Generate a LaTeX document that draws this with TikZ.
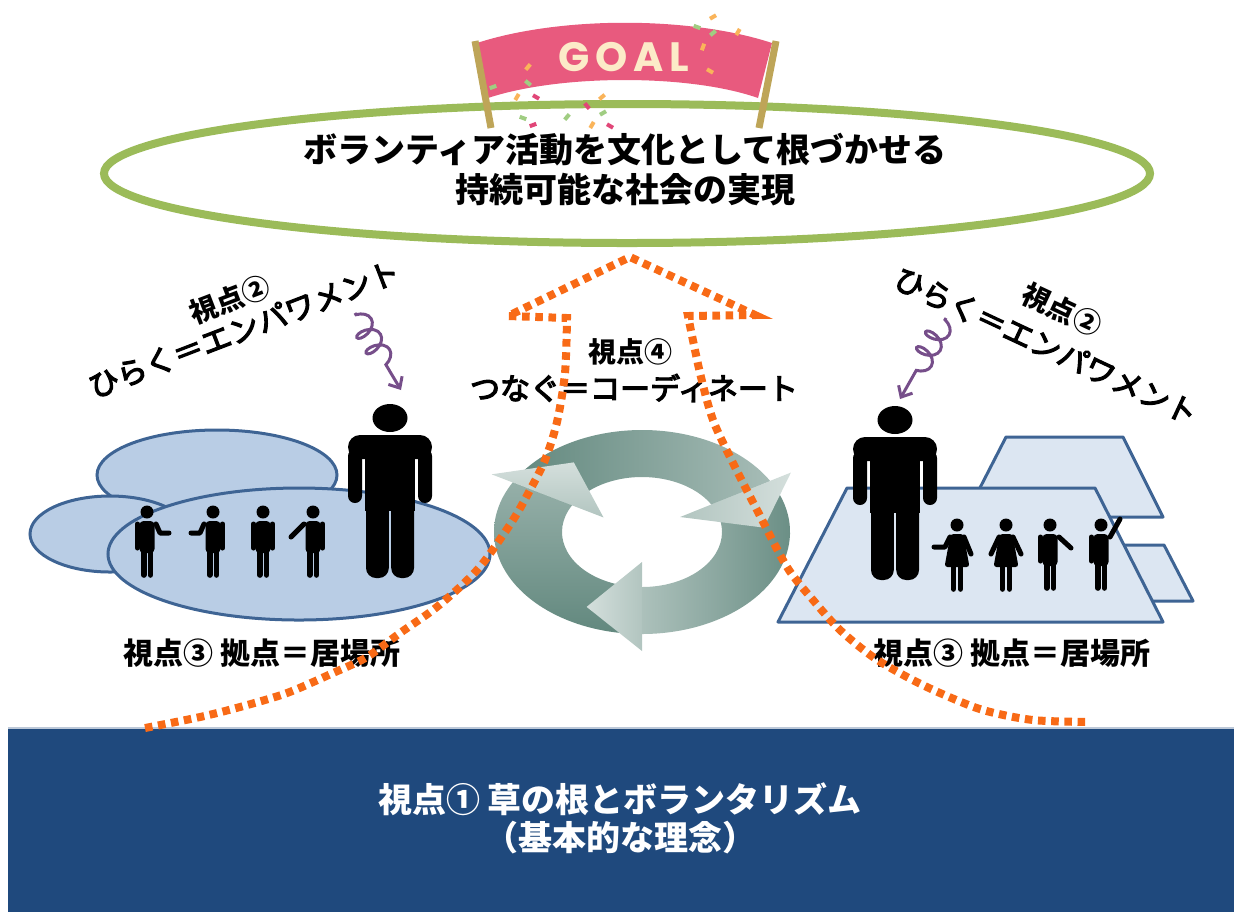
\documentclass[tikz,border=0pt]{standalone}
\usepackage{fontspec}
\newfontfamily\jp{Noto Sans CJK JP}
\newfontfamily\jpmed[FakeBold=4]{Noto Sans CJK JP}
\newfontfamily\goalfont[LetterSpace=14]{Poppins}
\usetikzlibrary{arrows.meta, decorations.pathmorphing}

\definecolor{baseblue}{RGB}{31,73,125}
\definecolor{ringgreen}{RGB}{155,187,89}
\definecolor{bannerpink}{RGB}{232,90,126}
\definecolor{poletan}{RGB}{190,165,88}
\definecolor{goalcream}{RGB}{252,235,200}
\definecolor{dotorange}{RGB}{248,106,22}
\definecolor{cloudfill}{RGB}{185,205,229}
\definecolor{planefill}{RGB}{220,230,242}
\definecolor{shapeedge}{RGB}{62,100,148}
\definecolor{cycdark}{RGB}{98,136,126}
\definecolor{cyclight}{RGB}{212,223,220}
\definecolor{coilpurple}{RGB}{118,78,138}
\definecolor{confgreen}{RGB}{160,205,130}
\definecolor{conforange}{RGB}{250,180,90}
\definecolor{confpink}{RGB}{225,70,120}

\tikzset{
  limb/.style={line width=2.5pt, line cap=round, line join=round},
  leg/.style={line width=2.8pt, line cap=round},
  blob/.style={fill=cloudfill, draw=shapeedge, line width=1.5pt},
  plane/.style={fill=planefill, draw=shapeedge, line width=1.5pt, line join=round},
  dots/.style={draw=dotorange, line width=4pt, dash pattern=on 3.8pt off 2.8pt},
  coilarrow/.style={draw=coilpurple, line width=1.5pt, decorate,
    decoration={coil, aspect=0.6, amplitude=5.5pt, segment length=9pt,
      pre length=1pt, post length=9pt},
    -{Straight Barb[length=4.5pt, width=8pt]}},
  title/.style={font=\jp\bfseries\fontsize{17pt}{20pt}\selectfont, align=center},
  basetext/.style={font=\jp\bfseries\fontsize{17pt}{19pt}\selectfont, align=center, text=white},
  viewpoint/.style={font=\jp\bfseries\fontsize{14pt}{16pt}\selectfont},
  catch/.style={font=\jpmed\fontsize{15pt}{17pt}\selectfont},
  place/.style={font=\jp\bfseries\fontsize{15pt}{17pt}\selectfont},
  pics/bigman/.style={code={
    \fill (0,-17) ellipse [x radius=17.5, y radius=14];
    \fill[rounded corners=6pt] (-42,24) -- (-42,0) -- (42,0) -- (42,24) -- cycle;
    \fill[rounded corners=3.5pt] (-42,14) rectangle (-28,68);
    \fill[rounded corners=3.5pt] (28,14) rectangle (42,68);
    \fill (-25,14) rectangle (25,76);
    \fill[rounded corners=5pt] (-24,66) rectangle (-1.2,143);
    \fill[rounded corners=5pt] (1.2,66) rectangle (24,143);
  }},
  pics/smallman/.style={code={
    \fill (0,0) circle [radius=6.5];
    \fill[rounded corners=2pt] (-7.5,9) rectangle (7.5,41);
    \draw[leg] (-3.3,39) -- (-3.3,63) (3.3,39) -- (3.3,63);
  }},
  pics/smallwoman/.style={code={
    \fill (0,0) circle [radius=6.5];
    \fill[rounded corners=1.5pt] (-6.5,9) -- (6.5,9) -- (12.5,42) -- (-12.5,42) -- cycle;
    \draw[leg] (-3.5,40) -- (-3.5,64) (3.5,40) -- (3.5,64);
  }},
}

\begin{document}
\begin{tikzpicture}[x=0.5pt, y=-0.5pt]
\useasboundingbox (0,0) rectangle (1234,912);

% base band: the foundation
\fill[baseblue] (8,727) rectangle (1234,912);
\draw[white!70!baseblue, line width=1pt] (8,728) -- (1234,728);
\node[basetext] (base) at (620,818) {視点① 草の根とボランタリズム\\{\addfontfeatures{RawFeature=+halt}（}基本的な理念{\addfontfeatures{RawFeature=+halt}）}};

% goal ring
\draw[ringgreen, line width=4pt] (627,173.5) ellipse [x radius=523, y radius=69.5];
\node[title] (goal) at (625,170) {ボランティア活動を文化として根づかせる\\持続可能な社会の実現};

% goal banner
\fill[bannerpink] (477,43) .. controls (560,16) and (690,16) .. (772,43)
  -- (758,98) .. controls (690,74) and (560,74) .. (488,98) -- cycle;
\draw[poletan, line width=3.5pt] (475,41) -- (491,128);
\draw[poletan, line width=3.5pt] (776,41) -- (759,128);
\node[font=\goalfont\bfseries\fontsize{20.5pt}{22pt}\selectfont, text=goalcream] (goalword) at (624,57) {GOAL};
\foreach \cx/\cy/\ca/\cc in {713/17/30/conforange, 697/27/-20/confgreen, 713/33/40/confgreen,
  738/32/60/conforange, 703/47/70/conforange, 710/71/-30/conforange, 528/67/50/conforange,
  528/83/-40/confgreen, 493/87/20/confgreen, 517/97/60/conforange, 536/97/-30/confpink,
  602/97/40/conforange, 587/106/-50/confpink, 603/113/30/confgreen, 523/118/-20/confgreen,
  567/117/50/confgreen, 592/125/60/conforange, 610/126/-30/confpink, 533/125/20/confpink}
  \fill[\cc, rotate around={\ca:(\cx,\cy)}] (\cx-3.5,\cy-2) rectangle (\cx+3.5,\cy+2);

% left place: cloud of ellipses
\draw[blob] (217,475) ellipse [x radius=120, y radius=45];
\draw[blob] (110,534) ellipse [x radius=80, y radius=38];
\draw[blob] (299,554) ellipse [x radius=191, y radius=66];

% right place: stacked planes
\draw[plane] (1006,437) -- (1123,437) -- (1163,517) -- (965,517) -- cycle;
\draw[plane] (1115,545) -- (1164,545) -- (1193,601) -- (1140,601) -- cycle;
\draw[plane] (847,488) -- (1095,488) -- (1163,622) -- (778,622) -- cycle;

% cycle of three curved arrows
\begin{scope}[shift={(642,532)}]
  \shade[top color=cycdark!55!cyclight, bottom color=cycdark]
    (90:148 and 102) arc [start angle=90, end angle=209, x radius=148, y radius=102]
    -- (209:80 and 55) arc [start angle=209, end angle=90, x radius=80, y radius=55] -- cycle;
  \shade[left color=cycdark, right color=cycdark!40!cyclight]
    (209:148 and 102) arc [start angle=209, end angle=330, x radius=148, y radius=102]
    -- (330:80 and 55) arc [start angle=330, end angle=209, x radius=80, y radius=55] -- cycle;
  \shade[right color=cycdark, left color=cycdark!35!cyclight]
    (330:148 and 102) arc [start angle=330, end angle=450, x radius=148, y radius=102]
    -- (450:80 and 55) arc [start angle=450, end angle=330, x radius=80, y radius=55] -- cycle;
  \shade[top color=cyclight, bottom color=cyclight!70!cycdark]
    (209:172 and 119) -- (236:122 and 84) -- (209:44 and 30) -- cycle;
  \shade[left color=cyclight!70!cycdark, right color=cyclight]
    (330:172 and 119) -- (357:122 and 84) -- (330:44 and 30) -- cycle;
  \shade[left color=cyclight, right color=cyclight!70!cycdark]
    (90:172 and 119) -- (117:122 and 84) -- (90:44 and 30) -- cycle;
\end{scope}

% people on the left
\pic at (390,435) {bigman};
\begin{scope}[shift={(147,512)}]
  \pic {smallman};
  \draw[limb] (-9.5,12) -- (-9.5,36);
  \draw[limb] (9,12) -- (13,21) -- (22,21);
\end{scope}
\begin{scope}[shift={(213,512)}]
  \pic {smallman};
  \draw[limb] (9.5,12) -- (9.5,36);
  \draw[limb] (-9,12) -- (-13,21) -- (-22,21);
\end{scope}
\begin{scope}[shift={(263,512)}]
  \pic {smallman};
  \draw[limb] (-9.5,12) -- (-9.5,36) (9.5,12) -- (9.5,36);
\end{scope}
\begin{scope}[shift={(313,512)}]
  \pic {smallman};
  \draw[limb] (9.5,12) -- (9.5,36);
  \draw[limb] (-9,12) -- (-22,25);
\end{scope}

% people on the right
\pic at (895,437) {bigman};
\begin{scope}[shift={(957,525)}]
  \pic {smallwoman};
  \draw[limb] (-7,12) -- (-12,22) -- (-23,22);
  \draw[limb] (7,12) -- (14,29);
\end{scope}
\begin{scope}[shift={(1006,525)}]
  \pic {smallwoman};
  \draw[limb] (-7,12) -- (-15,29) (7,12) -- (15,29);
\end{scope}
\begin{scope}[shift={(1050,525)}]
  \pic {smallman};
  \draw[limb] (-9.5,12) -- (-9.5,36);
  \draw[limb] (9,12) -- (21,23);
\end{scope}
\begin{scope}[shift={(1101,525)}]
  \pic {smallman};
  \draw[limb] (-9.5,12) -- (-9.5,36);
  \draw[limb] (9,12) -- (19,-6);
\end{scope}

% labels
\node[viewpoint, rotate=21] (v2l) at (230,300) {視点②};
\node[catch, rotate=21] (empl) at (244,329) {ひらく＝エンパワメント};
\node[viewpoint, rotate=-25] (v2r) at (1062,310) {視点②};
\node[catch, rotate=-25] (empr) at (1046,346) {ひらく＝エンパワメント};
\node[viewpoint] (v4) at (630,352) {視点④};
\node[catch] (coord) at (634,388) {つなぐ＝コーディネート};
\node[place] (v3l) at (262,653) {視点③ 拠点＝居場所};
\node[place] (v3r) at (1012,653) {視点③ 拠点＝居場所};

% curly arrows towards the leaders
\coordinate (cl0) at (355,313);
\coordinate (cl1) at (401,390);
\coordinate (cr0) at (946,318);
\coordinate (cr1) at (900,399);
\draw[coilarrow] (cl0) -- (cl1);
\draw[coilarrow] (cr0) -- (cr1);

% dotted upward arrow rising from the base
\draw[dots] plot[smooth, tension=0.5] coordinates {(145,728) (200,717) (240,707) (287,693) (333,673)
    (367,657) (400,633) (433,610) (460,587) (483,563) (513,520) (530,490) (545,460) (557,422)
    (565,373) (567,318)}
  -- (508,316) -- (630,257) -- (755,315)
  -- plot[smooth, tension=0.5] coordinates {(688,316) (700,373) (713,420) (733,463) (757,510)
    (787,567) (813,600) (840,630) (873,657) (907,677) (940,693) (983,710) (1033,720) (1090,722)};
\end{tikzpicture}
\end{document}
